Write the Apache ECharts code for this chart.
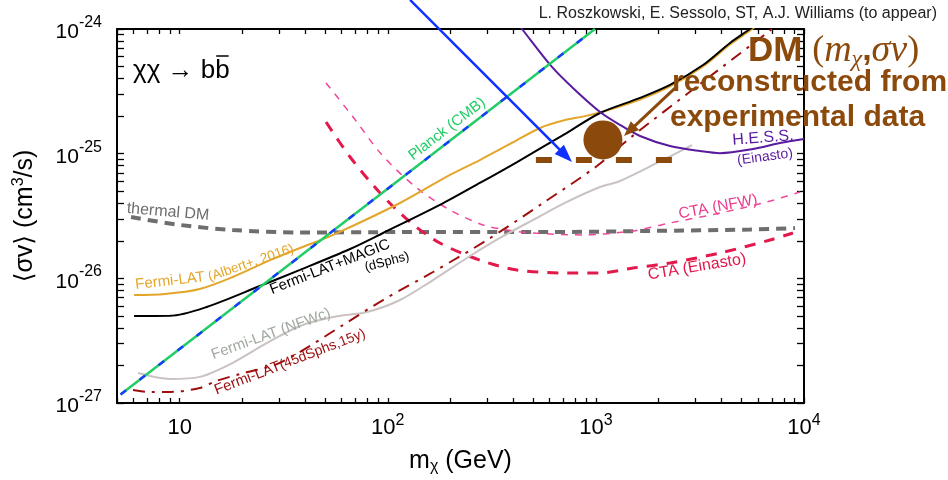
<!DOCTYPE html>
<html>
<head>
<meta charset="utf-8">
<title>Indirect detection limits, χχ → bb̄</title>
<script src="https://cdn.jsdelivr.net/npm/echarts@6.0.0/dist/echarts.min.js"></script>
<style>
  html, body { margin: 0; padding: 0; background: #ffffff; }
  #chart { width: 948px; height: 480px; }
</style>
</head>
<body>
<div id="chart"></div>
<script>
// Dark-matter mass m_χ in GeV, annihilation cross section <σv> in cm^3/s.

const xTickExponents = [1, 2, 3, 4];
const yTickExponents = [-27, -26, -25, -24];
const tickMantissas = [1, 2, 3, 4, 5, 6, 7, 8, 9];

const planckMass   = [5.2, 990];
const planckSigmaV = [1.17e-27, 1.0e-24];

const fermiMagicMass   = [6.04, 8.99, 13.5, 24.3, 37.9, 65.9, 94.9, 178, 277, 418, 726, 1047, 1629, 2271, 3272, 4411, 5504, 6495];
const fermiMagicSigmaV = [4.99e-27, 5.0e-27, 5.89e-27, 8.68e-27, 1.17e-26, 1.72e-26, 2.31e-26, 3.88e-26, 5.82e-26, 8.57e-26, 1.47e-25, 2.12e-25, 2.80e-25, 3.56e-25, 5.14e-25, 7.73e-25, 1.0e-24, 1.23e-24];

const fermiAlbertMass   = [6.04, 8.50, 12.5, 18.0, 27.2, 37.9, 54.6, 114.5, 199, 277, 387, 539, 711, 887, 1106, 1629, 2271, 3272, 4411, 5504, 6495];
const fermiAlbertSigmaV = [7.35e-27, 7.49e-27, 8.21e-27, 1.025e-26, 1.40e-26, 1.75e-26, 2.23e-26, 4.02e-26, 6.75e-26, 8.89e-26, 1.196e-25, 1.607e-25, 1.86e-25, 2.0e-25, 2.20e-25, 2.72e-25, 3.46e-25, 5.0e-25, 7.51e-25, 9.72e-25, 1.19e-24];

const thermalMass   = [5.84, 10.04, 18.0, 37.9, 114.5, 602, 1820, 5504, 9055];
const thermalSigmaV = [3.10e-26, 2.68e-26, 2.44e-26, 2.33e-26, 2.35e-26, 2.35e-26, 2.40e-26, 2.46e-26, 2.53e-26];

const fermiNfwcMass   = [6.31, 8.99, 12.5, 18.0, 26.3, 37.9, 54.6, 79.5, 114.5, 165, 240, 346, 499, 726, 1047, 1306, 1966, 2896];
const fermiNfwcSigmaV = [1.74e-27, 1.56e-27, 1.62e-27, 2.10e-27, 3.03e-27, 4.15e-27, 4.90e-27, 5.37e-27, 6.70e-27, 9.69e-27, 1.456e-26, 2.11e-26, 2.94e-26, 4.10e-26, 5.40e-26, 6.04e-26, 8.42e-26, 1.17e-25];

const fermi45Mass   = [5.97, 7.20, 8.99, 12.5, 14.95, 19.5, 28.7, 37.9, 60.9, 94.9, 165, 300, 557, 1012, 1459, 3165, 7020, 8566];
const fermi45SigmaV = [1.27e-27, 1.226e-27, 1.226e-27, 1.32e-27, 1.50e-27, 1.71e-27, 2.02e-27, 2.57e-27, 4.22e-27, 6.70e-27, 1.124e-26, 2.03e-26, 4.02e-26, 7.96e-26, 1.335e-25, 3.62e-25, 1.0e-24, 1.295e-24];

const ctaNfwMass   = [50.5, 68.1, 93.8, 138, 199, 287, 374, 499, 867, 1508, 2271, 3948, 6643, 9567];
const ctaNfwSigmaV = [3.69e-25, 1.97e-25, 9.76e-26, 5.30e-26, 3.53e-26, 2.68e-26, 2.44e-26, 2.31e-26, 2.23e-26, 2.40e-26, 2.78e-26, 3.34e-26, 4.10e-26, 4.93e-26];

const ctaEinastoMass   = [50.5, 65.9, 91.8, 128, 178, 277, 418, 726, 1047, 1508, 2271, 3948, 6866, 8855];
const ctaEinastoSigmaV = [1.795e-25, 9.40e-26, 4.84e-26, 2.83e-26, 1.92e-26, 1.40e-26, 1.166e-26, 1.104e-26, 1.104e-26, 1.21e-26, 1.327e-26, 1.597e-26, 2.03e-26, 2.31e-26];

const hessMass   = [391, 441.6, 615, 794, 1047, 1306, 1629, 2271, 3165, 3948, 5689, 7667, 10000];
const hessSigmaV = [1.295e-24, 1.0e-24, 4.96e-25, 3.24e-25, 2.16e-25, 1.70e-25, 1.386e-25, 1.152e-25, 1.05e-25, 1.01e-25, 1.09e-25, 1.218e-25, 1.31e-25];

// reconstructed benchmark point and its mass range
const dmMass = [1081];
const dmSigmaV = [1.29e-25];
const dmRangeMass = [515, 2323];
const dmRangeSigmaV = [8.89e-26, 8.89e-26];

// annotation arrows (start, tip)
const blueArrowMass = [128, 768];
const blueArrowSigmaV = [1.71e-24, 8.57e-26];
const brownArrowMass = [2400, 1365];
const brownArrowSigmaV = [3.36e-25, 1.386e-25];

const FONT = "'Liberation Sans', 'DejaVu Sans', Arial, sans-serif";
const SERIF = "'Liberation Serif', 'DejaVu Serif', serif";
const BROWN = '#8b4a0c';

const L10 = Math.log10;
const pts = (mass, sv) => mass.map((m, i) => [L10(m), L10(sv[i])]);

const xMin = L10(5), xMax = 4, yMin = -27, yMax = -24;

function logTicks(lo, hi) {
  const out = [];
  for (let e = Math.floor(lo); e <= Math.ceil(hi); e++) {
    for (const k of tickMantissas) {
      const v = e + L10(k);
      if (v >= lo - 1e-9 && v <= hi + 1e-9) out.push(v);
    }
  }
  return out;
}
const xTicks = logTicks(xMin, xMax);
const yTicks = logTicks(yMin, yMax);

const frameLine = { show: true, onZero: false, lineStyle: { color: '#000', width: 2 } };

function xAxis(position, withLabels) {
  return {
    type: 'value', position, min: xMin, max: xMax,
    axisLine: frameLine,
    axisTick: { show: true, inside: true, length: 5, customValues: xTicks, lineStyle: { color: '#000', width: 1.3 } },
    splitLine: { show: false },
    axisLabel: withLabels ? {
      customValues: xTickExponents,
      margin: 10,
      formatter: v => (v === 1 ? '{b|10}' : '{b|10}{s|' + v + '}'),
      rich: {
        b: { fontSize: 22, fontFamily: FONT, color: '#000', padding: [3.5, 0, 0, 0] },
        s: { fontSize: 16, fontFamily: FONT, color: '#000', padding: [0, 0, 9.5, 0] }
      }
    } : { show: false },
    name: withLabels ? 'm{sub|χ} (GeV)' : '',
    nameLocation: 'middle',
    nameGap: 44,
    nameTextStyle: {
      fontSize: 25, fontFamily: FONT, color: '#000',
      rich: { sub: { fontSize: 16, fontFamily: FONT, color: '#000', padding: [12, 0, 0, 0] } }
    }
  };
}

function yAxis(position, withLabels) {
  return {
    type: 'value', position, min: yMin, max: yMax,
    axisLine: frameLine,
    axisTick: { show: true, inside: true, length: 7, customValues: yTicks, lineStyle: { color: '#000', width: 1.3 } },
    splitLine: { show: false },
    axisLabel: withLabels ? {
      customValues: yTickExponents,
      margin: 15,
      formatter: v => '{b|10}{s|' + v + '}',
      rich: {
        b: { fontSize: 21, fontFamily: FONT, color: '#000', padding: [7, 0, 0, 0] },
        s: { fontSize: 16, fontFamily: FONT, color: '#000', padding: [0, 0, 13, 0] }
      }
    } : { show: false },
    name: withLabels ? '⟨σv⟩ (cm{sup|3}/s)' : '',
    nameLocation: 'middle',
    nameGap: 78,
    nameTextStyle: {
      fontSize: 25, fontFamily: FONT, color: '#000',
      rich: { sup: { fontSize: 16, fontFamily: FONT, color: '#000', padding: [0, 0, 12, 0] } }
    }
  };
}

function curve(name, mass, sv, color, width, type, z, smooth) {
  return {
    type: 'line', name, data: pts(mass, sv),
    showSymbol: false, symbol: 'none',
    smooth: smooth === undefined ? 0.3 : smooth,
    lineStyle: { color, width, type, cap: 'butt' },
    z, silent: true, clip: true
  };
}

const series = [
  curve('thermal DM', thermalMass, thermalSigmaV, '#6e6e6e', 4, [10, 7], 3),
  curve('CTA (NFW)', ctaNfwMass, ctaNfwSigmaV, '#f0489a', 1.5, [7, 7], 3),
  curve('CTA (Einasto)', ctaEinastoMass, ctaEinastoSigmaV, '#e3194b', 3, [11, 9], 3),
  curve('Fermi-LAT (NFWc)', fermiNfwcMass, fermiNfwcSigmaV, '#cbc2c2', 2, 'solid', 3),
  curve('Fermi-LAT (45dSphs, 15y)', fermi45Mass, fermi45SigmaV, '#a00d0d', 2, [12, 7, 3, 7], 4),
  curve('Fermi-LAT (Albert+, 2016)', fermiAlbertMass, fermiAlbertSigmaV, '#e3a62b', 2, 'solid', 4),
  curve('Fermi-LAT+MAGIC', fermiMagicMass, fermiMagicSigmaV, '#000000', 2, 'solid', 5),
  curve('H.E.S.S. (Einasto)', hessMass, hessSigmaV, '#5a1a9e', 2, 'solid', 5),
  curve('Planck (CMB)', planckMass, planckSigmaV, '#22cc66', 2.5, 'solid', 6, false),
  curve('Planck (CMB) dashes', planckMass, planckSigmaV, '#1a3cff', 2.5, [7, 17], 7, false),
  curve('mass range', dmRangeMass, dmRangeSigmaV, BROWN, 6, [16, 24], 8, false),
  {
    type: 'scatter', name: 'DM point', data: pts(dmMass, dmSigmaV),
    symbol: 'circle', symbolSize: 39, itemStyle: { color: BROWN, opacity: 1 },
    z: 9, silent: true
  }
];

const chart = echarts.init(document.getElementById('chart'), null, { renderer: 'canvas' });
chart.setOption({
  animation: false,
  backgroundColor: '#ffffff',
  grid: { left: 117, right: 144, top: 29, bottom: 77, containLabel: false },
  xAxis: [xAxis('bottom', true), xAxis('top', false)],
  yAxis: [yAxis('left', true), yAxis('right', false)],
  series
});

const toPx = (m, sv) => chart.convertToPixel({ xAxisIndex: 0, yAxisIndex: 0 }, [L10(m), L10(sv)]);

function arrow(mass, sv, color, lineWidth, headLen, headWidth) {
  const p0 = toPx(mass[0], sv[0]);
  const p1 = toPx(mass[1], sv[1]);
  const dx = p1[0] - p0[0], dy = p1[1] - p0[1];
  const len = Math.hypot(dx, dy);
  const ux = dx / len, uy = dy / len, nx = -uy, ny = ux;
  const bx = p1[0] - ux * headLen, by = p1[1] - uy * headLen;
  return [
    { type: 'line', z: 100, silent: true,
      shape: { x1: p0[0], y1: p0[1], x2: bx + ux * 2, y2: by + uy * 2 },
      style: { stroke: color, lineWidth } },
    { type: 'polygon', z: 100, silent: true,
      shape: { points: [[p1[0], p1[1]], [bx + nx * headWidth / 2, by + ny * headWidth / 2], [bx - nx * headWidth / 2, by - ny * headWidth / 2]] },
      style: { fill: color } }
  ];
}

function label(text, x, y, deg, size, color, rich) {
  const el = {
    type: 'text', x, y, rotation: deg * Math.PI / 180, z: 100, silent: true,
    style: { text, fill: color, fontSize: size, fontFamily: FONT, align: 'center', verticalAlign: 'middle' }
  };
  if (rich) el.style.rich = rich;
  return el;
}

// width of the leading part of the process label, for the bar over the anti-quark
const measureCtx = document.createElement('canvas').getContext('2d');
measureCtx.font = "26px 'Liberation Sans'";
const procX = 133;
const barStart = procX + measureCtx.measureText('χχ → b').width;
const barEnd = procX + measureCtx.measureText('χχ → bb').width;

const darkRed = '#9c0f0f';

const graphics = [
  label('thermal DM', 168, 212, -5, 16, '#6e6e6e'),
  label('Fermi-LAT', 170, 281, 6.6, 15, '#e3a62b'),
  label('(Albert+, 2016)', 251, 263, 19, 13.5, '#e3a62b'),
  label('Fermi-LAT+MAGIC', 330, 267, 21.4, 15, '#000000'),
  label('(dSphs)', 387, 262, 15, 13, '#000000'),
  label('Planck (CMB)', 447, 129, 37.6, 15, '#22cc66'),
  label('Fermi-LAT (NFWc)', 271, 334, 19.8, 15, '#a0a8a0'),
  label('{a|Fermi-LAT}{b|(45dSphs,15y)}', 290, 362, 21, 15, darkRed, {
    a: { fontSize: 15, fontFamily: FONT, fill: darkRed },
    b: { fontSize: 14, fontFamily: FONT, fill: darkRed }
  }),
  label('CTA (NFW)', 718, 207, 10.6, 15.5, '#ec3c8c'),
  label('CTA (Einasto)', 697, 267, 9.5, 16, '#e0174a'),
  label('H.E.S.S.', 763, 138, 4.5, 16, '#5a1a9e'),
  label('(Einasto)', 765, 157, 8, 14, '#5a1a9e'),
  { type: 'text', x: procX, y: 71, z: 100, silent: true,
    style: { text: 'χχ → bb', fill: '#000', fontSize: 26, fontFamily: FONT, align: 'left', verticalAlign: 'middle' } },
  { type: 'line', z: 100, silent: true,
    shape: { x1: barStart + 1, y1: 56, x2: barEnd - 1, y2: 56 },
    style: { stroke: '#000', lineWidth: 1.5 } },
  { type: 'text', x: 937, y: 14, z: 100, silent: true,
    style: { text: 'L. Roszkowski, E. Sessolo, ST, A.J. Williams (to appear)', fill: '#222', fontSize: 16, fontFamily: FONT, align: 'right', verticalAlign: 'middle' } },
  { type: 'text', x: 748, y: 51, z: 101, silent: true,
    style: {
      text: '{a|DM }{p|(}{i|m}{sub|χ}{c|,}{i|σv}{p|)}', align: 'left', verticalAlign: 'middle',
      rich: {
        a: { fontSize: 35, fontWeight: 'bold', fontFamily: FONT, fill: BROWN },
        p: { fontSize: 36, fontFamily: SERIF, fill: BROWN },
        i: { fontSize: 38, fontStyle: 'italic', fontFamily: SERIF, fill: BROWN },
        sub: { fontSize: 24, fontStyle: 'italic', fontFamily: SERIF, fill: BROWN, padding: [18, 0, 0, 0] },
        c: { fontSize: 34, fontWeight: 'bold', fontFamily: FONT, fill: BROWN }
      }
    } },
  { type: 'text', x: 672, y: 83, z: 101, silent: true,
    style: { text: 'reconstructed from', fill: BROWN, fontSize: 30, fontWeight: 'bold', fontFamily: FONT, align: 'left', verticalAlign: 'middle' } },
  { type: 'text', x: 670, y: 118, z: 101, silent: true,
    style: { text: 'experimental data', fill: BROWN, fontSize: 30, fontWeight: 'bold', fontFamily: FONT, align: 'left', verticalAlign: 'middle' } }
];

graphics.push(...arrow(blueArrowMass, blueArrowSigmaV, '#1030ff', 2.5, 18, 13));
graphics.push(...arrow(brownArrowMass, brownArrowSigmaV, BROWN, 3, 15, 12));

chart.setOption({ graphic: graphics });
</script>
</body>
</html>
